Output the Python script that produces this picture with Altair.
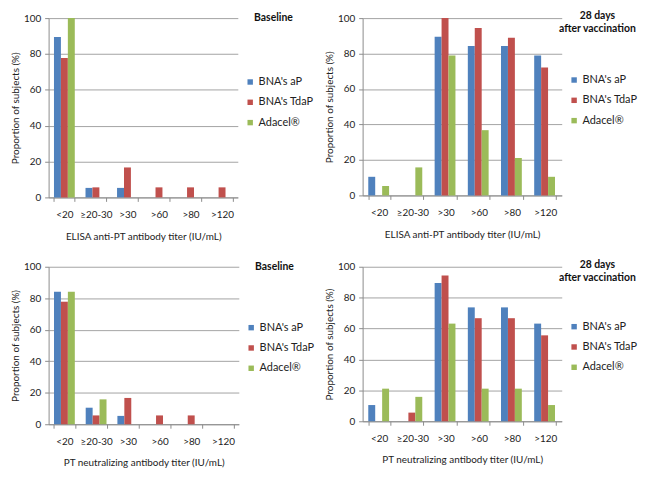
import altair as alt
import pandas as pd

FONT = "Lato"
categories = ["<20", "≥20-30", ">30", ">60", ">80", ">120"]
series = ["BNA's aP", "BNA's TdaP", "Adacel®"]
colors = ["#4F81BD", "#C0504D", "#9BBB59"]

# ELISA anti-PT, baseline
elisa_base_ap = [89.5, 5.3, 5.3, 0, 0, 0]
elisa_base_tdap = [77.8, 5.6, 16.7, 5.6, 5.6, 5.6]
elisa_base_adacel = [100, 0, 0, 0, 0, 0]
# ELISA anti-PT, 28 days after vaccination
elisa_d28_ap = [10.5, 0, 89.5, 84.2, 84.2, 78.9]
elisa_d28_tdap = [0, 0, 100, 94.4, 88.9, 72.2]
elisa_d28_adacel = [5.3, 15.8, 78.9, 36.8, 21.1, 10.5]
# PT neutralizing, baseline
neut_base_ap = [84.2, 10.5, 5.3, 0, 0, 0]
neut_base_tdap = [77.8, 5.6, 16.7, 5.6, 5.6, 0]
neut_base_adacel = [84.2, 15.8, 0, 0, 0, 0]
# PT neutralizing, 28 days after vaccination
neut_d28_ap = [10.5, 0, 89.5, 73.7, 73.7, 63.2]
neut_d28_tdap = [0, 5.6, 94.4, 66.7, 66.7, 55.6]
neut_d28_adacel = [21.1, 15.8, 63.2, 21.1, 21.1, 10.5]

title_baseline = ["Baseline"]
title_d28 = ["28 days", "after vaccination"]

GREY = "#8c8c8c"


def panel(ap, tdap, ad, xtitle, title_lines, w, h, legend_y, title_y):
    rows = []
    for s, vals in zip(series, [ap, tdap, ad]):
        for c, v in zip(categories, vals):
            rows.append({"cat": c, "series": s, "value": v})
    df = pd.DataFrame(rows)
    bars = alt.Chart(df).mark_bar().encode(
        x=alt.X(
            "cat:N",
            sort=categories,
            title=xtitle,
            scale=alt.Scale(paddingInner=0.34, paddingOuter=0.17),
            axis=alt.Axis(
                labelAngle=0,
                tickBand="extent",
                tickSize=4,
                tickColor=GREY,
                domainColor=GREY,
                labelPadding=8,
                titlePadding=12,
                grid=False,
            ),
        ),
        xOffset=alt.XOffset("series:N", sort=series, scale=alt.Scale(domain=series)),
        y=alt.Y(
            "value:Q",
            title="Proportion of subjects (%)",
            scale=alt.Scale(domain=[0, 100]),
            axis=alt.Axis(
                values=[0, 20, 40, 60, 80, 100],
                grid=True,
                gridColor=GREY,
                gridWidth=0.8,
                domainColor=GREY,
                tickColor=GREY,
                tickSize=4,
                labelPadding=4,
                titlePadding=3,
            ),
        ),
        color=alt.Color(
            "series:N",
            sort=series,
            scale=alt.Scale(domain=series, range=colors),
            legend=alt.Legend(
                title=None,
                orient="none",
                legendX=w + 7,
                legendY=legend_y,
                symbolType="square",
                symbolSize=30,
                symbolStrokeWidth=0,
                labelFontSize=11,
                labelOffset=3,
                rowPadding=8.5,
                padding=0,
            ),
        ),
    ).properties(width=w, height=h)
    layers = [bars]
    for i, line in enumerate(title_lines):
        tdf = pd.DataFrame({"t": [line]})
        layers.append(
            alt.Chart(tdf).mark_text(
                font=FONT, fontSize=10.5, fontWeight="bold",
                align="center", baseline="middle", color="#111",
            ).encode(text="t:N", x=alt.value(w + 36), y=alt.value(title_y + 13 * i))
        )
    return alt.layer(*layers)


p1 = panel(elisa_base_ap, elisa_base_tdap, elisa_base_adacel,
           "ELISA anti-PT antibody titer (IU/mL)", title_baseline, 191, 181, 59, 0)
p2 = panel(elisa_d28_ap, elisa_d28_tdap, elisa_d28_adacel,
           "ELISA anti-PT antibody titer (IU/mL)", title_d28, 201, 179, 57, -2)
p3 = panel(neut_base_ap, neut_base_tdap, neut_base_adacel,
           "PT neutralizing antibody titer (IU/mL)", title_baseline, 192, 159, 56, 0)
p4 = panel(neut_d28_ap, neut_d28_tdap, neut_d28_adacel,
           "PT neutralizing antibody titer (IU/mL)", title_d28, 201, 156, 55, -2)

chart = alt.concat(p1, p2, p3, p4, columns=2, spacing={"row": 17, "column": 8}).resolve_legend(
    color="independent"
).configure(
    font=FONT, background="white", padding={"left": 2, "top": 0, "right": 0, "bottom": 0}
).configure_view(stroke="transparent").configure_axis(
    labelFont=FONT, titleFont=FONT, labelFontSize=10, titleFontSize=10,
    titleFontWeight="normal", labelColor="#222", titleColor="#222",
).configure_legend(labelFont=FONT, labelColor="#222")

chart.save("out.html", embed_options={"renderer": "svg", "actions": False})
